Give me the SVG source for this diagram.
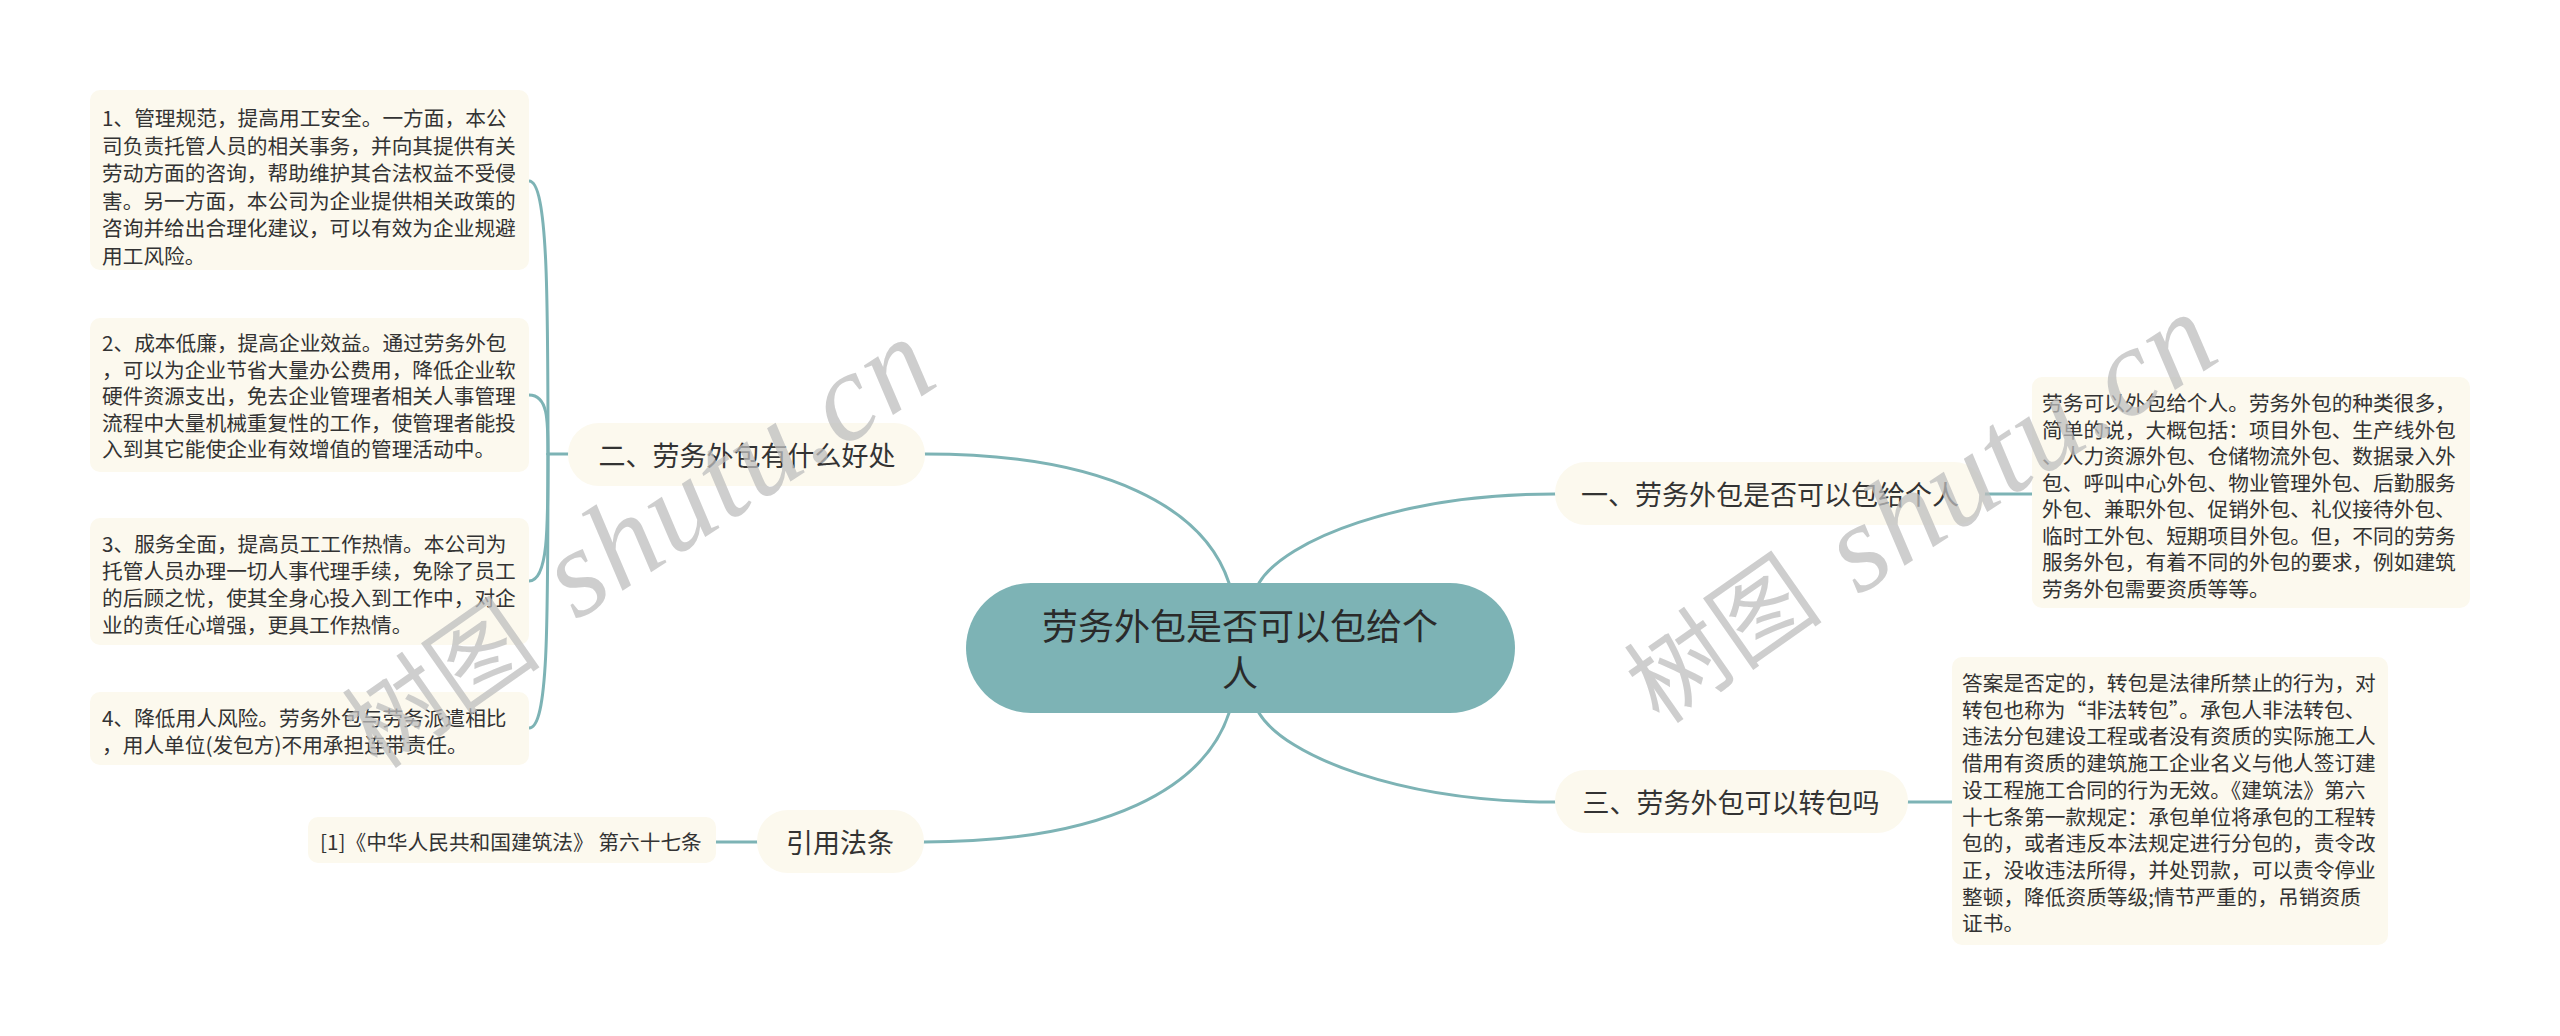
<svg xmlns="http://www.w3.org/2000/svg" width="2560" height="1036" viewBox="0 0 2560 1036">
<defs>
<style>
.bg{fill:#ffffff}
.conn{fill:none;stroke:#7db3b5;stroke-width:3;stroke-linecap:round}
.pill{fill:#fcf9ee}
.leaf{fill:#fcf9ee}
.root{fill:#7db3b5}
.t{font-family:"Noto Sans CJK SC","Noto Sans",sans-serif;fill:#333333;dominant-baseline:central}
.tr{font-size:36px;fill:#2a2a2a;text-anchor:middle}
.tm{font-size:27px;text-anchor:middle}
.tl{font-size:20.7px}
.wm{font-family:"Noto Sans CJK SC",sans-serif;fill:#bdbdbd;fill-opacity:0.75;font-size:100px;dominant-baseline:central}
.wl{font-family:"Liberation Serif",serif;font-style:italic;fill:#bdbdbd;fill-opacity:0.75;font-size:125px}
</style>
</defs>
<rect class="bg" x="0" y="0" width="2560" height="1036"/>

<g id="connectors">
<path class="conn" d="M925,454 C1110,454 1205,510 1229,583"/>
<path class="conn" d="M1259,583 C1285,540 1400,494 1555,494"/>
<path class="conn" d="M1259,713 C1285,756 1400,802 1555,802"/>
<path class="conn" d="M1229,713 C1205,786 1110,842 924,842"/>
<path class="conn" d="M716,842 L757,842"/>
<path class="conn" d="M548,454 L568,454"/>
<path class="conn" d="M548,454 C548,300 548,181 529,181"/>
<path class="conn" d="M548,454 C548,420 548,395 529,395"/>
<path class="conn" d="M548,454 C548,530 548,581 529,581"/>
<path class="conn" d="M548,454 C548,630 548,728 529,728"/>
<path class="conn" d="M1985,494 L2032,494"/>
<path class="conn" d="M1908,802 L1952,802"/>
</g>

<g id="root">
<rect class="root" x="966" y="583" width="549" height="130" rx="65"/>
<text class="t tr" x="1240" y="624">劳务外包是否可以包给个</text>
<text class="t tr" x="1240" y="671">人</text>
</g>

<g id="node-benefits">
<rect class="pill" x="568" y="423" width="357" height="63" rx="31"/>
<text class="t tm" x="747" y="454">二、劳务外包有什么好处</text>
</g>

<g id="node-q1">
<rect class="pill" x="1555" y="462" width="430" height="63" rx="31"/>
<text class="t tm" x="1770" y="493">一、劳务外包是否可以包给个人</text>
</g>

<g id="node-q3">
<rect class="pill" x="1555" y="770" width="353" height="63" rx="31"/>
<text class="t tm" x="1731" y="801">三、劳务外包可以转包吗</text>
</g>

<g id="node-law">
<rect class="pill" x="757" y="810" width="167" height="63" rx="31"/>
<text class="t tm" x="840" y="841">引用法条</text>
</g>

<g id="leaf-law">
<rect class="leaf" x="308" y="817" width="408" height="46" rx="10"/>
<text class="t tl" x="320" y="841">[1]《中华人民共和国建筑法》 第六十七条</text>
</g>

<g id="leaf-b1">
<rect class="leaf" x="90" y="90" width="439" height="180" rx="10"/>
<text class="t tl" x="102" y="117">1、管理规范，提高用工安全。一方面，本公</text>
<text class="t tl" x="102" y="144.5">司负责托管人员的相关事务，并向其提供有关</text>
<text class="t tl" x="102" y="172">劳动方面的咨询，帮助维护其合法权益不受侵</text>
<text class="t tl" x="102" y="199.5">害。另一方面，本公司为企业提供相关政策的</text>
<text class="t tl" x="102" y="227">咨询并给出合理化建议，可以有效为企业规避</text>
<text class="t tl" x="102" y="254.5">用工风险。</text>
</g>

<g id="leaf-b2">
<rect class="leaf" x="90" y="318" width="439" height="154" rx="10"/>
<text class="t tl" x="102" y="342">2、成本低廉，提高企业效益。通过劳务外包</text>
<text class="t tl" x="102" y="368.5">，可以为企业节省大量办公费用，降低企业软</text>
<text class="t tl" x="102" y="395">硬件资源支出，免去企业管理者相关人事管理</text>
<text class="t tl" x="102" y="421.5">流程中大量机械重复性的工作，使管理者能投</text>
<text class="t tl" x="102" y="448">入到其它能使企业有效增值的管理活动中。</text>
</g>

<g id="leaf-b3">
<rect class="leaf" x="90" y="518" width="439" height="127" rx="10"/>
<text class="t tl" x="102" y="543">3、服务全面，提高员工工作热情。本公司为</text>
<text class="t tl" x="102" y="570">托管人员办理一切人事代理手续，免除了员工</text>
<text class="t tl" x="102" y="597">的后顾之忧，使其全身心投入到工作中，对企</text>
<text class="t tl" x="102" y="624">业的责任心增强，更具工作热情。</text>
</g>

<g id="leaf-b4">
<rect class="leaf" x="90" y="692" width="439" height="73" rx="10"/>
<text class="t tl" x="102" y="717">4、降低用人风险。劳务外包与劳务派遣相比</text>
<text class="t tl" x="102" y="744">，用人单位(发包方)不用承担连带责任。</text>
</g>

<g id="leaf-q1">
<rect class="leaf" x="2032" y="377" width="438" height="231" rx="10"/>
<text class="t tl" x="2042" y="402">劳务可以外包给个人。劳务外包的种类很多，</text>
<text class="t tl" x="2042" y="428.5">简单的说，大概包括：项目外包、生产线外包</text>
<text class="t tl" x="2042" y="455">、人力资源外包、仓储物流外包、数据录入外</text>
<text class="t tl" x="2042" y="481.5">包、呼叫中心外包、物业管理外包、后勤服务</text>
<text class="t tl" x="2042" y="508">外包、兼职外包、促销外包、礼仪接待外包、</text>
<text class="t tl" x="2042" y="534.5">临时工外包、短期项目外包。但，不同的劳务</text>
<text class="t tl" x="2042" y="561">服务外包，有着不同的外包的要求，例如建筑</text>
<text class="t tl" x="2042" y="587.5">劳务外包需要资质等等。</text>
</g>

<g id="leaf-q3">
<rect class="leaf" x="1952" y="657" width="436" height="288" rx="10"/>
<text class="t tl" x="1962" y="682">答案是否定的，转包是法律所禁止的行为，对</text>
<text class="t tl" x="1962" y="708.7">转包也称为“非法转包”。承包人非法转包、</text>
<text class="t tl" x="1962" y="735.4">违法分包建设工程或者没有资质的实际施工人</text>
<text class="t tl" x="1962" y="762.1">借用有资质的建筑施工企业名义与他人签订建</text>
<text class="t tl" x="1962" y="788.8">设工程施工合同的行为无效。《建筑法》第六</text>
<text class="t tl" x="1962" y="815.5">十七条第一款规定：承包单位将承包的工程转</text>
<text class="t tl" x="1962" y="842.2">包的，或者违反本法规定进行分包的，责令改</text>
<text class="t tl" x="1962" y="868.9">正，没收违法所得，并处罚款，可以责令停业</text>
<text class="t tl" x="1962" y="895.6">整顿，降低资质等级;情节严重的，吊销资质</text>
<text class="t tl" x="1962" y="922.3">证书。</text>
</g>

<g id="watermarks">
<text class="wm" transform="translate(1635,690) rotate(-35)">树图</text>
<text class="wl" transform="translate(1858,596) rotate(-33)" textLength="436" lengthAdjust="spacing">shutu.cn</text>
<text class="wm" transform="translate(353,735) rotate(-35)">树图</text>
<text class="wl" transform="translate(576,621) rotate(-33)" textLength="436" lengthAdjust="spacing">shutu.cn</text>
</g>
</svg>
